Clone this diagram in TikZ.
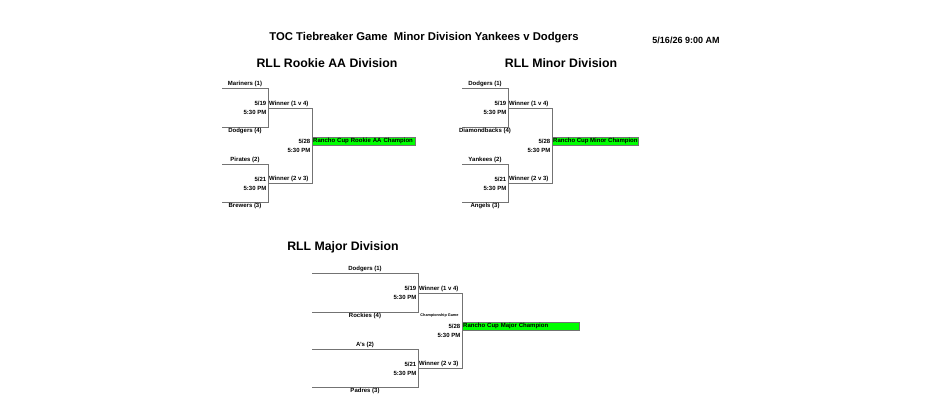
\documentclass[tikz,border=0pt]{standalone}
\usepackage{fontspec}
\setmainfont{Liberation Sans}
\usetikzlibrary{positioning,calc}
\tikzset{
  line/.style = {draw=black!55, line width=0.6pt},
  team/.style = {font=\bfseries\fontsize{6}{7}\selectfont, inner sep=1pt},
  game/.style = {font=\bfseries\fontsize{6}{7}\selectfont, inner sep=0.5pt, align=right},
  champ/.style = {fill=green, draw=black!55, line width=0.4pt, minimum height=8pt,
                  inner sep=1pt, anchor=west, font=\bfseries\fontsize{6}{7}\selectfont},
  division/.style = {font=\bfseries\fontsize{12.3}{13}\selectfont},
}
% one four-team bracket: #1 prefix, #2 left x, #3 mid x, #4 right x, #5 top y, #6..#9 teams
\newcommand{\bracket}[9]{%
  \coordinate (#1a1) at (#2,#5);      \coordinate (#1a2) at (#3,#5);
  \coordinate (#1b1) at (#2,#5+39);   \coordinate (#1b2) at (#3,#5+39);
  \coordinate (#1c1) at (#2,#5+76);   \coordinate (#1c2) at (#3,#5+76);
  \coordinate (#1d1) at (#2,#5+114);  \coordinate (#1d2) at (#3,#5+114);
  \coordinate (#1w1) at (#3,#5+20);   \coordinate (#1w2) at (#4,#5+20);
  \coordinate (#1v1) at (#3,#5+95);   \coordinate (#1v2) at (#4,#5+95);
  \path[line] (#1a1) -- (#1a2) -- (#1b2) -- (#1b1);
  \path[line] (#1c1) -- (#1c2) -- (#1d2) -- (#1d1);
  \path[line] (#1w1) -- (#1w2) -- (#1v2) -- (#1v1);
  \node[team, above] at ($(#1a1)!0.5!(#1a2)$) {#6};
  \node[team, below] at ($(#1b1)!0.5!(#1b2)$) {#7};
  \node[team, above] at ($(#1c1)!0.5!(#1c2)$) {#8};
  \node[team, below] at ($(#1d1)!0.5!(#1d2)$) {#9};
  \node[team, above right] at (#1w1) {Winner (1 v 4)};
  \node[team, above right] at (#1v1) {Winner (2 v 3)};
  \node[game, anchor=north east] at ([xshift=-1pt,yshift=-12pt]#1a2) {5/19\\[2pt]5:30 PM};
  \node[game, anchor=north east] at ([xshift=-1pt,yshift=-12pt]#1c2) {5/21\\[2pt]5:30 PM};
  \node[game, anchor=north east] at ([xshift=-1pt,yshift=-30pt]#1w2) {5/28\\[2pt]5:30 PM};
}
\begin{document}
\begin{tikzpicture}[x=1pt, y=-1pt]
  \useasboundingbox (0,0) rectangle (942,406);
  % Titles
  \node[font=\bfseries\fontsize{11.3}{12}\selectfont] (title) at (424,38) {TOC Tiebreaker Game\ \ Minor Division Yankees v Dodgers};
  \node[font=\bfseries\fontsize{9}{10}\selectfont] (stamp) at (686,40) {5/16/26 9:00 AM};
  \node[division] (rookie) at (327,63) {RLL Rookie AA Division};
  \node[division] (minor) at (561,63) {RLL Minor Division};
  \node[division] (major) at (343,247) {RLL Major Division};

  % Brackets
  \bracket{r}{222}{268}{312}{88}{Mariners (1)}{Dodgers (4)}{Pirates (2)}{Brewers (3)}
  \node[champ, align=left, text width=101pt] (rchamp) at (rw2|-0,141) {Rancho Cup Rookie AA Champion};

  \bracket{m}{462}{508}{552}{88}{Dodgers (1)}{Diamondbacks (4)}{Yankees (2)}{Angels (3)}
  \node[champ, minimum width=86pt] (mchamp) at (mw2|-0,141) {Rancho Cup Minor Champion};

  \bracket{j}{312}{418}{462}{273}{Dodgers (1)}{Rockies (4)}{A's (2)}{Padres (3)}
  \node[champ, align=left, text width=115pt] (jchamp) at (jw2|-0,326) {Rancho Cup Major Champion};
  \node[font=\bfseries\fontsize{3.8}{4}\selectfont, anchor=east] (jgame) at (462,316) {Championship Game};
\end{tikzpicture}
\end{document}
